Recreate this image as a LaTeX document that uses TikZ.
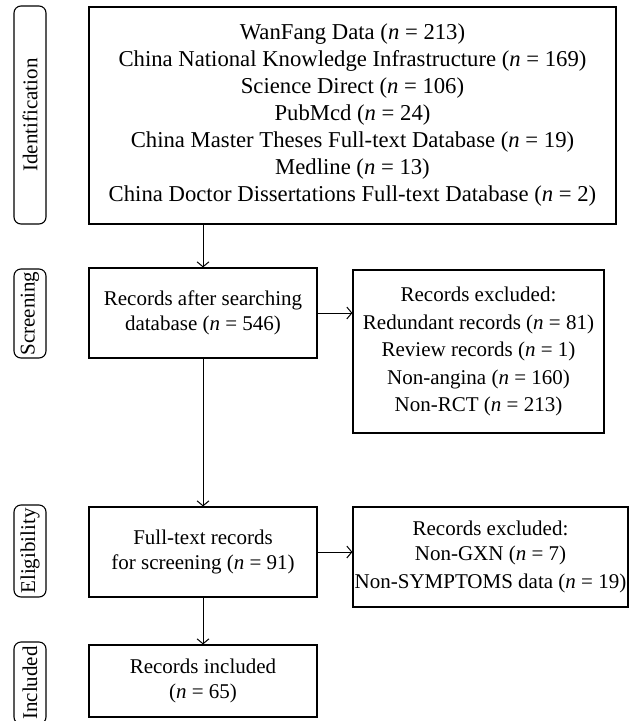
\documentclass[tikz,border=0pt]{standalone}
\usepackage{fontspec}
\setmainfont{Liberation Serif}
\usetikzlibrary{positioning, arrows.meta}
\tikzstyle{line} = [draw, line width=1pt, -{Straight Barb[length=5pt,width=12pt]}]
\tikzstyle{block} = [draw, line width=1.1pt, align=center, inner sep=0pt, font=\fontsize{21}{25}\selectfont]
\tikzstyle{phase} = [draw, line width=1.1pt, rounded corners=7pt, rotate=90, minimum height=32, inner sep=0pt, font=\fontsize{21}{26}\selectfont]
\newcommand{\Ncount}[1]{(\textit{n}~=~#1)}

\begin{document}
\begin{tikzpicture}[x=1pt,y=-1pt]
\useasboundingbox (0,0) rectangle (636,721);
% phases
\node[phase, minimum width=218] (ident) at (30,115) {Identification};
\node[phase, minimum width=89] (screen) at (30,313.5) {Screening};
\node[phase, minimum width=92] (elig) at (30,551) {Eligibility};
\node[phase, minimum width=82] (incl) at (30,683) {Included};
% boxes
\node[block, minimum width=527, minimum height=217, font=\fontsize{22.7}{27}\selectfont] (sources) at (352.5,115.5) {WanFang Data \Ncount{213}\\
China National Knowledge Infrastructure \Ncount{169}\\
Science Direct \Ncount{106}\\
PubMcd \Ncount{24}\\
China Master Theses Full-text Database \Ncount{19}\\
Medline \Ncount{13}\\
China Doctor Dissertations Full-text Database \Ncount{2}};
\node[block, minimum width=228, minimum height=90] (search) at (203,313) {Records after searching\\ database \Ncount{546}};
\node[block, minimum width=251, minimum height=163, font=\fontsize{21}{27.5}\selectfont] (excl1) at (478.5,351.5) {Records excluded:\\
Redundant records \Ncount{81}\\
Review records \Ncount{1}\\
Non-angina \Ncount{160}\\
Non-RCT \Ncount{213}};
\node[block, minimum width=228, minimum height=90] (fulltext) at (203,552) {Full-text records\\ for screening \Ncount{91}};
\node[block, minimum width=275, minimum height=100] (excl2) at (490.5,557) {Records excluded:\\
Non-GXN \Ncount{7}\\[3pt]
Non-SYMPTOMS data \Ncount{19}};
\node[block, minimum width=228, minimum height=72] (included) at (203,681) {Records included\\ \Ncount{65}};
% connectors
\draw[line] (sources.south -| search.north) -- (search.north);
\draw[line] (search.east) -- (search.east -| excl1.west);
\draw[line] (search.south) -- (fulltext.north);
\draw[line] (fulltext.east) -- (fulltext.east -| excl2.west);
\draw[line] (fulltext.south) -- (included.north);
\end{tikzpicture}
\end{document}
